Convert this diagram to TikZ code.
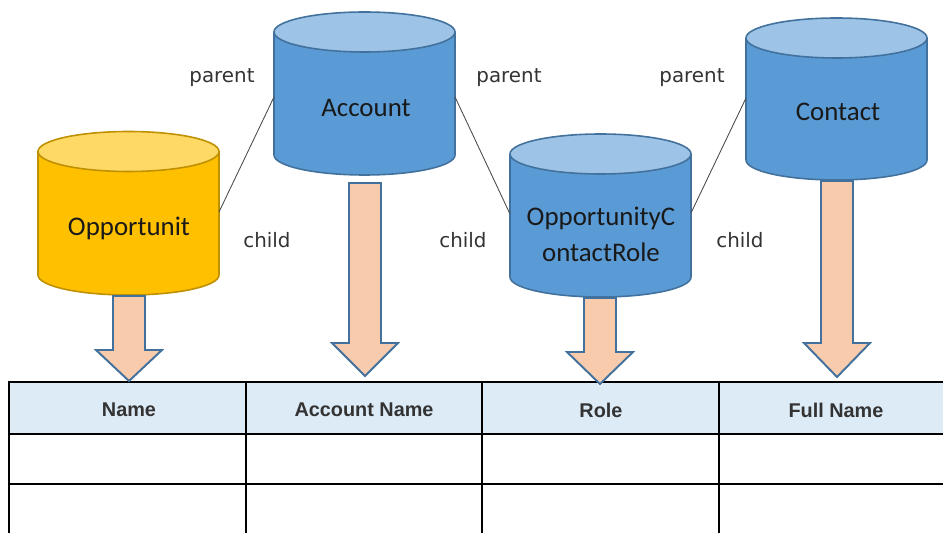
\documentclass[tikz,border=0pt]{standalone}
\usepackage{fontspec}
\setmainfont{Carlito}
\newfontfamily\lblfont{DejaVu Sans}
\newfontfamily\hdrfont{Liberation Sans}
\definecolor{goldbody}{HTML}{FFC000}
\definecolor{goldtop}{HTML}{FFD966}
\definecolor{goldline}{HTML}{BF9000}
\definecolor{bluebody}{HTML}{5B9BD5}
\definecolor{bluetop}{HTML}{9DC3E6}
\definecolor{blueline}{HTML}{41719C}
\definecolor{arrowfill}{HTML}{F8CBAD}
\definecolor{hdrfill}{HTML}{DDEBF7}
% #1 cx, #2 top ellipse centre y, #3 bottom ellipse centre y, #4 body, #5 top, #6 border
\newcommand\dbcyl[6]{%
  \fill[#4] (#1-90.5,-#2) -- (#1-90.5,-#3) arc[start angle=180,end angle=360,x radius=90.5,y radius=20] -- (#1+90.5,-#2) -- cycle;
  \draw[#6,line width=0.9pt] (#1-90.5,-#2) -- (#1-90.5,-#3) arc[start angle=180,end angle=360,x radius=90.5,y radius=20] -- (#1+90.5,-#2);
  \filldraw[fill=#5,draw=#6,line width=0.9pt] (#1,-#2) ellipse[x radius=90.5,y radius=20];
}
% block arrow: #1 cx, #2 shaft top, #3 head start, #4 tip
\newcommand\blockarrow[4]{%
  \filldraw[fill=arrowfill,draw=blueline,line width=1.1pt,line join=miter]
    (#1-16,-#2) -- (#1+16,-#2) -- (#1+16,-#3) -- (#1+33,-#3) -- (#1,-#4)
    -- (#1-33,-#3) -- (#1-16,-#3) -- cycle;
}
\tikzset{
  cyltext/.style={font=\fontsize{15.3}{20.4}\selectfont, text=black!90, align=center, inner sep=0pt},
  lbl/.style={font=\lblfont\fontsize{11.3}{13}\selectfont, text=black!80, inner sep=0pt},
  hdr/.style={font=\hdrfont\bfseries\fontsize{11.3}{13}\selectfont, text=black!80, inner sep=0pt},
  link/.style={draw=black!70, line width=0.5pt},
  grid/.style={draw=black, line width=1.1pt},
}
\begin{document}
\begin{tikzpicture}[x=0.02cm,y=0.02cm]
\useasboundingbox (0,0) rectangle (943,-533);
% table
\fill[hdrfill] (9,-382) rectangle (943,-434);
\draw[grid] (960,-382) -- (9,-382) -- (9,-545);
\draw[grid] (9,-434) -- (960,-434);
\draw[grid] (9,-484) -- (960,-484);
\foreach \x in {246,482,719} \draw[grid] (\x,-382) -- (\x,-545);
\node[hdr] (h1) at (129,-410) {Name};
\node[hdr] (h2) at (364,-410) {Account Name};
\node[hdr] (h3) at (601,-410) {Role};
\node[hdr] (h4) at (836,-410) {Full Name};
% cylinders
\dbcyl{128.5}{151.5}{275}{goldbody}{goldtop}{goldline}
\dbcyl{364.5}{32}{155}{bluebody}{bluetop}{blueline}
\dbcyl{600.5}{154}{277}{bluebody}{bluetop}{blueline}
\dbcyl{836.5}{38}{160}{bluebody}{bluetop}{blueline}
\node[cyltext] (opp) at (129,-228) {Opportunit};
\node[cyltext] (acc) at (366,-108) {Account};
\node[cyltext] (ocr) at (601,-234) {OpportunityC\\ontactRole};
\node[cyltext] (con) at (838,-112) {Contact};
% block arrows
\blockarrow{129}{296}{350}{381}
\blockarrow{365}{183}{343}{376}
\blockarrow{600}{298}{352}{384}
\blockarrow{837}{181}{343}{377}
% connector end points
\coordinate (acc-w) at (274,-97);
\coordinate (acc-e) at (455,-97);
\coordinate (opp-e) at (219,-212);
\coordinate (ocr-w) at (510,-214);
\coordinate (ocr-e) at (691,-213);
\coordinate (con-w) at (746,-98);
\draw[link] (acc-w) -- (opp-e);
\draw[link] (acc-e) -- (ocr-w);
\draw[link] (ocr-e) -- (con-w);
% labels
\node[lbl] (p1) at (222,-78) {parent};
\node[lbl] (p2) at (509,-78) {parent};
\node[lbl] (p3) at (692,-78) {parent};
\node[lbl] (c1) at (267,-240) {child};
\node[lbl] (c2) at (463,-240) {child};
\node[lbl] (c3) at (740,-240) {child};
\end{tikzpicture}
\end{document}
